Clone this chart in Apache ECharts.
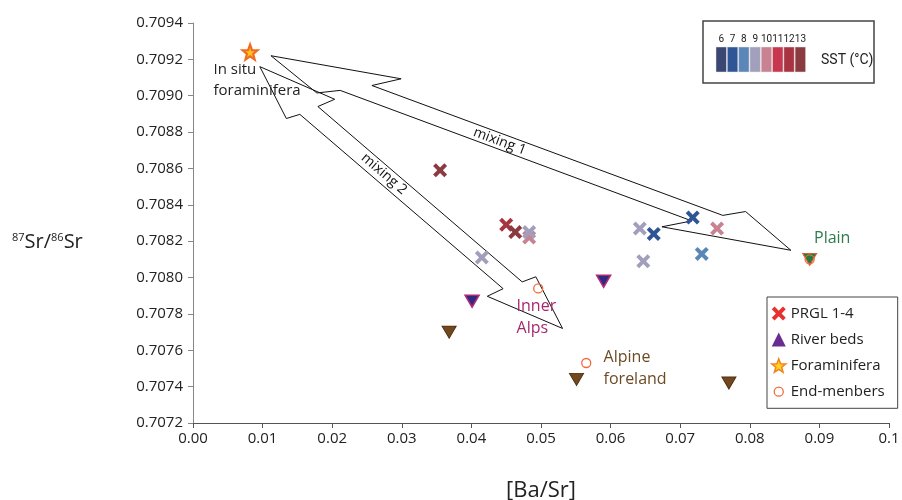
<!DOCTYPE html>
<html><head><meta charset="utf-8">
<script src="https://cdn.jsdelivr.net/npm/echarts@6/dist/echarts.min.js"></script>
<style>html,body{margin:0;padding:0;background:#fff}#c{width:902px;height:500px}</style>
</head><body><div id="c"></div>
<script>
// ---------- data ----------
const xTickLabels = ['0.00','0.01','0.02','0.03','0.04','0.05','0.06','0.07','0.08','0.09','0.1'];
const yTickLabels = ['0.7072','0.7074','0.7076','0.7078','0.7080','0.7082','0.7084','0.7086','0.7088','0.7090','0.7092','0.7094'];

// PRGL 1-4 samples (crosses), coloured by SST (°C)
const prglX   = [0.0355, 0.0450, 0.0463, 0.0483, 0.0483, 0.0415, 0.0642, 0.0662, 0.0718, 0.0753, 0.0731, 0.0647];
const prglY   = [0.70859, 0.70829, 0.70825, 0.70822, 0.70825, 0.70811, 0.70827, 0.70824, 0.70833, 0.70827, 0.70813, 0.70809];
const prglSst = [13, 12, 13, 10, 9, 9, 9, 7, 7, 10, 8, 9];

// River beds (triangles)
const riverX = [0.0401, 0.0590, 0.0368, 0.0551, 0.0770, 0.0886];
const riverY = [0.70787, 0.70798, 0.70770, 0.70744, 0.70742, 0.70810];
const riverSource = ['Inner Alps','Inner Alps','Alpine foreland','Alpine foreland','Alpine foreland','Plain'];

// Foraminifera (star)
const foramX = [0.0082];
const foramY = [0.70924];
const foramLabels = ['In situ\nforaminifera'];

// End-members (circles)
const endX = [0.0496, 0.0565, 0.0886];
const endY = [0.70794, 0.70753, 0.70810];
const endLabels = ['Inner\nAlps', 'Alpine\nforeland', 'Plain'];

// Mixing arrows (start tip -> end tip)
const mixNames  = ['mixing 1', 'mixing 2'];
const mixStartX = [0.0112, 0.0096];
const mixStartY = [0.70922, 0.70916];
const mixEndX   = [0.0859, 0.0531];
const mixEndY   = [0.70815, 0.70772];

// SST colour scale
const sstLevels = [6, 7, 8, 9, 10, 11, 12, 13];
const sstColors = ['#3B4672', '#2F5596', '#5B87B8', '#A29FBC', '#C98291', '#C8374F', '#A93441', '#8B3A3F'];

// ---------- styles ----------
const FONT = 'Open Sans';
const crossPath = 'path://M2,0L5,3L8,0L10,2L7,5L10,8L8,10L5,7L2,10L0,8L3,5L0,2Z';
const starPath = 'path://M10,0L12.47,6.6L19.51,6.91L13.99,11.3L15.88,18.09L10,14.2L4.12,18.09L6.01,11.3L0.49,6.91L7.53,6.6Z';
const smallCirclePath = 'path://M0,0M14,14M7,2.5A4.5,4.5,0,1,1,7,11.5A4.5,4.5,0,1,1,7,2.5Z';
const riverStyles = {
  'Inner Alps':      {color: '#2E2A7D', borderColor: '#B0287A', borderWidth: 1.5, opacity: 1},
  'Alpine foreland': {color: '#74481F', borderColor: '#4E2F12', borderWidth: 1, opacity: 1},
  'Plain':           {color: '#237A44', borderColor: '#E25B2A', borderWidth: 1, opacity: 1}
};
const endLabelStyles = [
  {position: [-16.5, 12.5], color: '#A8286E'},
  {position: [22.5, -11.5], color: '#6E4A24'},
  {position: [9.5, -26.5],  color: '#2E7D4A'}
];
// arrow outline: [fromEnd(0 start / 1 end), along-axis px, normal px]
const arrowOutlines = [
  [[0,0,0],[0,130,-24],[0,105,-7.5],[1,-76,-8.8],[1,-56,-20.4],[1,0,0],[1,-129,23.2],[1,-103,7.2],[0,77,8.2],[0,56,18.8]],
  [[0,0,0],[0,78,-24.3],[0,70,-7.8],[1,-61,-8.8],[1,-54,-21.6],[1,0,0],[1,-78,24.9],[1,-71,8.8],[0,61.5,9.9],[0,54,21.9]]
];
const arrowLabelAt = [0.44, 0.41];

function sstColor(v) { return sstColors[sstLevels.indexOf(v)]; }

function renderArrow(params, api) {
  const i = params.dataIndex;
  const a = api.coord([api.value(0), api.value(1)]);
  const b = api.coord([api.value(2), api.value(3)]);
  const dx = b[0] - a[0], dy = b[1] - a[1], L = Math.hypot(dx, dy);
  const ux = dx / L, uy = dy / L, nx = -uy, ny = ux;
  const pts = arrowOutlines[i].map(function (p) {
    const o = p[0] ? b : a;
    return [o[0] + p[1] * ux + p[2] * nx, o[1] + p[1] * uy + p[2] * ny];
  });
  const t = arrowLabelAt[i];
  return {
    type: 'group',
    children: [
      {type: 'polygon', shape: {points: pts}, style: {fill: 'none', stroke: '#111', lineWidth: 1}},
      {type: 'text', x: a[0] + dx * t, y: a[1] + dy * t, rotation: -Math.atan2(dy, dx),
       style: {text: mixNames[i], align: 'center', verticalAlign: 'middle', fontSize: 14, fontFamily: FONT, fill: '#111'}}
    ]
  };
}

const graphics = [
  {type: 'rect', shape: {x: 703, y: 21, width: 171, height: 62}, style: {fill: '#fff', stroke: '#444', lineWidth: 1.5}},
  {type: 'text', x: 821, y: 60, style: {text: 'SST (°C)', verticalAlign: 'middle', fontSize: 14, fontFamily: 'Roboto', fill: '#222'}},
  {type: 'text', x: 12, y: 242, style: {
    text: '{sup|87}{b|Sr/}{sup|86}{b|Sr}', verticalAlign: 'middle', fontFamily: FONT, fill: '#222',
    rich: {sup: {fontSize: 11, verticalAlign: 'top', fontFamily: FONT, fill: '#222'},
           b: {fontSize: 20, fontFamily: FONT, fill: '#222'}}}}
];
sstLevels.forEach(function (lv, k) {
  graphics.push({type: 'rect', shape: {x: 716 + k * 11.3, y: 47, width: 10.5, height: 25},
                 style: {fill: sstColors[k], stroke: '#e4e4e4', lineWidth: 0.5}});
  graphics.push({type: 'text', x: 721.3 + k * 11.3, y: 39,
                 style: {text: String(lv), align: 'center', verticalAlign: 'middle', fontSize: 10, fontFamily: 'Roboto', fill: '#222'}});
});

const chart = echarts.init(document.getElementById('c'), null, {renderer: 'canvas'});
chart.setOption({
  animation: false,
  backgroundColor: '#fff',
  textStyle: {fontFamily: FONT},
  grid: {left: 193, right: 13, top: 23, bottom: 77, containLabel: false, outerBoundsMode: 'none'},
  xAxis: {
    type: 'value', min: 0, max: 0.1, interval: 0.01,
    axisLine: {show: true, onZero: false, lineStyle: {color: '#555', width: 1}},
    axisTick: {show: true, length: 5, lineStyle: {color: '#555'}},
    splitLine: {show: false},
    axisLabel: {margin: 8, fontSize: 15, color: '#222', fontFamily: FONT, showMinLabel: true, showMaxLabel: true,
      formatter: function (v) { return xTickLabels[Math.round(v / 0.01)]; }},
    name: '[Ba/Sr]', nameLocation: 'middle', nameGap: 57,
    nameTextStyle: {fontSize: 22, color: '#222', fontFamily: FONT}
  },
  yAxis: {
    type: 'value', min: 0.7072, max: 0.7094, interval: 0.0002,
    axisLine: {show: true, lineStyle: {color: '#888', width: 1}},
    axisTick: {show: true, length: 5, lineStyle: {color: '#888'}},
    splitLine: {show: false},
    axisLabel: {margin: 10, fontSize: 15, color: '#222', fontFamily: FONT, showMinLabel: true, showMaxLabel: true,
      formatter: function (v) { return yTickLabels[Math.round((v - 0.7072) / 0.0002)]; }}
  },
  legend: {
    orient: 'vertical', left: 767, top: 297, padding: [9, 13, 9, 4], itemGap: 11,
    itemWidth: 14, itemHeight: 14, borderColor: '#444', borderWidth: 1, backgroundColor: '#fff',
    symbolRotate: 0, selectedMode: false,
    textStyle: {fontSize: 15, color: '#222', fontFamily: FONT},
    data: [
      {name: 'PRGL 1-4', icon: crossPath, itemStyle: {color: '#E8302F', borderWidth: 0, opacity: 1}},
      {name: 'River beds', icon: 'triangle', itemStyle: {color: '#6A2C8E', borderWidth: 0, opacity: 1}},
      {name: 'Foraminifera', icon: starPath, itemStyle: {color: '#FFD21F', borderColor: '#F28322', borderWidth: 1.5, opacity: 1}},
      {name: 'End-menbers', icon: smallCirclePath, itemStyle: {color: '#fff', borderColor: '#F26A3A', borderWidth: 1.3, opacity: 1}}
    ]
  },
  graphic: graphics,
  series: [
    {
      name: 'mixing', type: 'custom', coordinateSystem: 'cartesian2d', z: 1, clip: false,
      renderItem: renderArrow,
      encode: {x: [0, 2], y: [1, 3]},
      data: mixNames.map(function (n, i) { return [mixStartX[i], mixStartY[i], mixEndX[i], mixEndY[i]]; })
    },
    {
      name: 'PRGL 1-4', type: 'scatter', z: 3, symbol: crossPath, symbolSize: 14,
      itemStyle: {opacity: 1, color: function (p) { return sstColor(prglSst[p.dataIndex]); }},
      data: prglX.map(function (x, i) { return [x, prglY[i]]; })
    },
    {
      name: 'River beds', type: 'scatter', z: 3, symbol: 'triangle', symbolRotate: 180, symbolSize: [14, 12],
      itemStyle: {opacity: 1},
      data: riverX.map(function (x, i) {
        return {value: [x, riverY[i]], itemStyle: riverStyles[riverSource[i]]};
      })
    },
    {
      name: 'End-menbers', type: 'scatter', z: 4, symbol: 'circle', symbolSize: 9,
      itemStyle: {opacity: 1, color: 'rgba(0,0,0,0)', borderColor: '#F26A3A', borderWidth: 1.3},
      data: endX.map(function (x, i) {
        return {value: [x, endY[i]], label: {
          show: true, formatter: endLabels[i], position: endLabelStyles[i].position,
          align: 'left', verticalAlign: 'top', fontSize: 16, lineHeight: 22, fontFamily: FONT,
          color: endLabelStyles[i].color, opacity: 1}};
      })
    },
    {
      name: 'Foraminifera', type: 'scatter', z: 4, symbol: starPath, symbolSize: 15,
      itemStyle: {opacity: 1, color: '#FFC51E', borderColor: '#F26A22', borderWidth: 2.2},
      data: foramX.map(function (x, i) {
        return {value: [x, foramY[i]], label: {
          show: true, formatter: foramLabels[i], position: [-28, 16],
          align: 'left', verticalAlign: 'top', fontSize: 15, lineHeight: 21, fontFamily: FONT, color: '#222', opacity: 1}};
      })
    }
  ]
});
</script>
</body></html>
